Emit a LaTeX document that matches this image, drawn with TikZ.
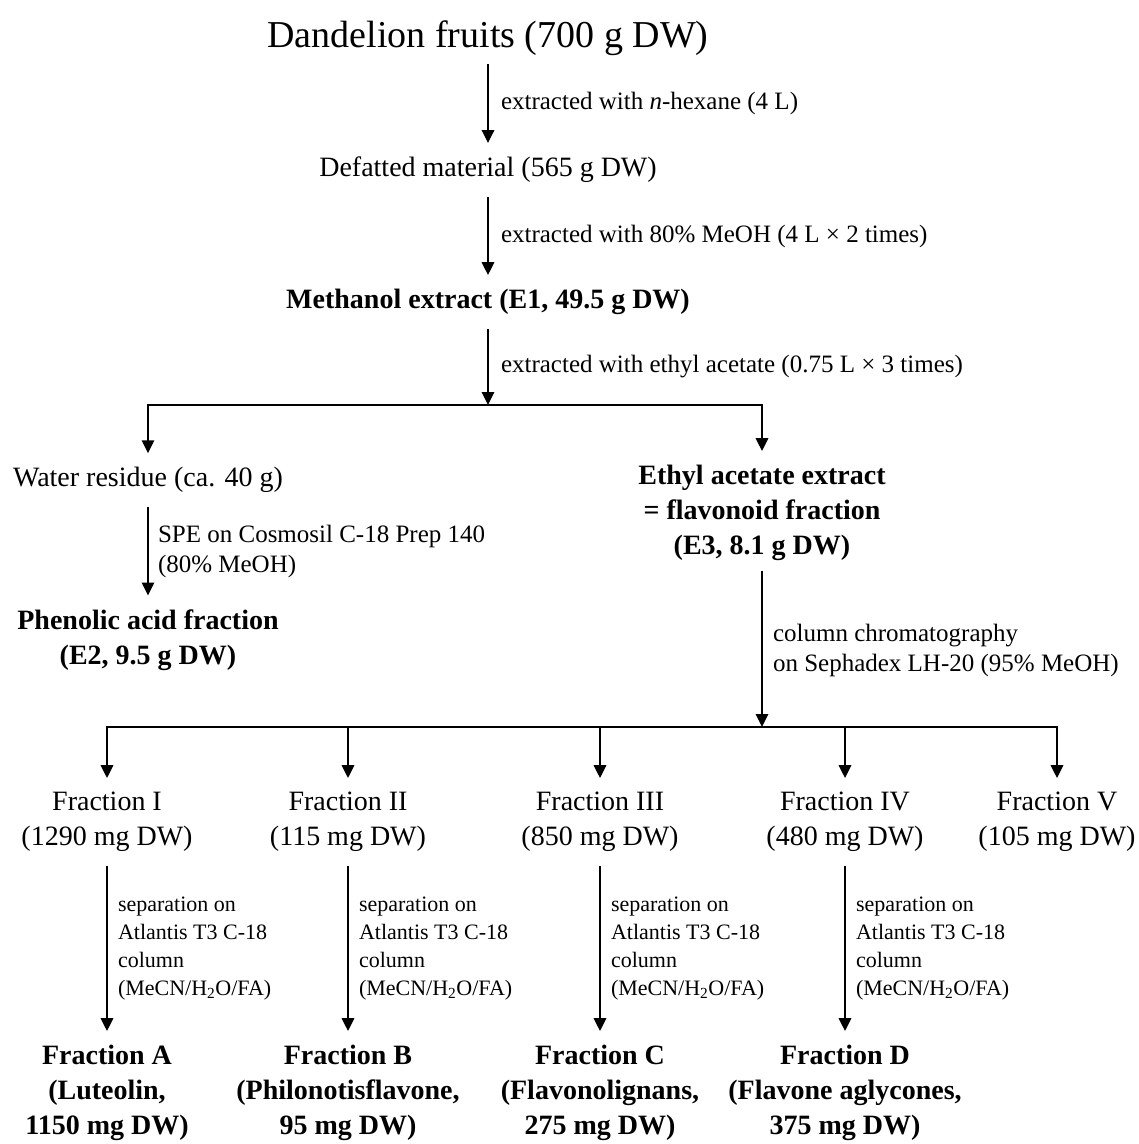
\documentclass[tikz,border=0pt]{standalone}
\usepackage{fontspec}
\setmainfont{Liberation Serif}
\usetikzlibrary{%
        arrows.meta,
        positioning
    }

\begin{document}
\begin{tikzpicture}[x=1pt, y=-1pt,
        flow/.style={-{Triangle[width=12pt, length=13pt]}, line width=2.9pt},
        splitbar/.style={line width=2.9pt, line cap=rect},
        stage/.style={font=\fontsize{28}{35}\selectfont, align=center,
            inner sep=0pt, outer sep=14pt},
        keystage/.style={stage, font=\fontsize{28}{35}\selectfont\bfseries},
        how/.style={font=\fontsize{25}{30}\selectfont, align=left,
            inner sep=0pt, outer sep=0pt, right=13pt},
        howsmall/.style={font=\fontsize{22}{28}\selectfont, align=left,
            inner sep=0pt, outer sep=0pt, right=11pt}]

    \useasboundingbox (0, 0) rectangle (1139, 1144);

    \node[stage, outer sep=9pt, font=\fontsize{38}{46}\selectfont]
        (fruits) at (488, 38) {Dandelion fruits (700 g DW)};
    \node[stage] (defat) at (488, 170) {Defatted material (565 g DW)};
    \node[keystage] (meoh) at (488, 302) {Methanol extract (E1, 49.5 g DW)};

    \draw[flow] (fruits) -- (defat)
        node[midway, how] {extracted with \textit{n}-hexane (4 L)};
    \draw[flow] (defat) -- (meoh)
        node[midway, how] {extracted with 80\% MeOH (4 L × 2 times)};

    \coordinate (split) at (488, 405);
    \coordinate (splitL) at (148, 405);
    \coordinate (splitR) at (762, 405);

    \draw[flow] (meoh) -- (split)
        node[midway, how] {extracted with ethyl acetate (0.75 L × 3 times)};
    \draw[splitbar] (splitL) -- (splitR);

    \node[stage] (water) at (148, 480) {Water residue (ca. 40 g)};
    \node[keystage] (phenolic) at (148, 640)
        {Phenolic acid fraction\\(E2, 9.5 g DW)};
    \node[keystage] (ethyl) at (762, 513)
        {Ethyl acetate extract\\= flavonoid fraction\\(E3, 8.1 g DW)};

    \draw[flow] (splitL) -- (water);
    \draw[flow] (splitR) -- (ethyl);
    \draw[flow] (water) -- (phenolic)
        node[midway, how, right=10pt] {SPE on Cosmosil C-18 Prep 140\\(80\% MeOH)};

    \coordinate (sephadex) at (762, 727);
    \draw[flow, shorten <=-4pt] (ethyl) -- (sephadex)
        node[midway, how, right=11pt]
        {column chromatography\\on Sephadex LH-20 (95\% MeOH)};

    \foreach \k/\x/\amt in {I/107/1290, II/348/115, III/600/850, IV/845/480, V/1057/105} {%
        \node[stage] (frac\k) at (\x, 822) {Fraction \k\\(\amt\ mg DW)};
        \coordinate (fork\k) at (\x, 727);
        \draw[flow] (fork\k) -- (frac\k);
    };
    \draw[splitbar] (forkI) -- (forkV);

    \foreach \k/\x/\r/\what/\amt in {I/107/A/Luteolin/1150, II/348/B/Philonotisflavone/95,
            III/600/C/Flavonolignans/275, IV/845/D/Flavone aglycones/375} {%
        \node[keystage] (res\r) at (\x, 1093) {Fraction \r\\(\what,\\\amt\ mg DW)};
        \draw[flow] (frac\k) -- (res\r)
            node[midway, howsmall]
            {separation on\\Atlantis T3 C-18\\column\\(MeCN/H\textsubscript{2}O/FA)};
    };

\end{tikzpicture}
\end{document}
